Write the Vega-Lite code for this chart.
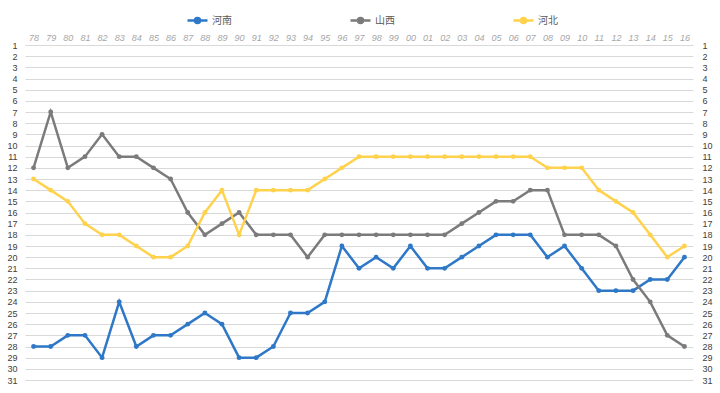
{
  "$schema": "https://vega.github.io/schema/vega-lite/v6.json",
  "autosize": "none",
  "width": 668,
  "height": 335,
  "padding": {"left": 25, "top": 45, "right": 27, "bottom": 13},
  "background": "white",
  "config": {
    "view": {"stroke": null},
    "font": "Liberation Sans",
    "axis": {"labelFont": "Liberation Sans"},
    "legend": {"labelFont": "Noto Sans CJK SC"}
  },
  "data": {
    "values": [
      {"yr": "78", "s": "河南", "v": 28}, {"yr": "79", "s": "河南", "v": 28}, {"yr": "80", "s": "河南", "v": 27}, {"yr": "81", "s": "河南", "v": 27}, {"yr": "82", "s": "河南", "v": 29}, {"yr": "83", "s": "河南", "v": 24}, {"yr": "84", "s": "河南", "v": 28}, {"yr": "85", "s": "河南", "v": 27}, {"yr": "86", "s": "河南", "v": 27}, {"yr": "87", "s": "河南", "v": 26}, {"yr": "88", "s": "河南", "v": 25}, {"yr": "89", "s": "河南", "v": 26}, {"yr": "90", "s": "河南", "v": 29}, {"yr": "91", "s": "河南", "v": 29}, {"yr": "92", "s": "河南", "v": 28}, {"yr": "93", "s": "河南", "v": 25}, {"yr": "94", "s": "河南", "v": 25}, {"yr": "95", "s": "河南", "v": 24}, {"yr": "96", "s": "河南", "v": 19}, {"yr": "97", "s": "河南", "v": 21}, {"yr": "98", "s": "河南", "v": 20}, {"yr": "99", "s": "河南", "v": 21}, {"yr": "00", "s": "河南", "v": 19}, {"yr": "01", "s": "河南", "v": 21}, {"yr": "02", "s": "河南", "v": 21}, {"yr": "03", "s": "河南", "v": 20}, {"yr": "04", "s": "河南", "v": 19}, {"yr": "05", "s": "河南", "v": 18}, {"yr": "06", "s": "河南", "v": 18}, {"yr": "07", "s": "河南", "v": 18}, {"yr": "08", "s": "河南", "v": 20}, {"yr": "09", "s": "河南", "v": 19}, {"yr": "10", "s": "河南", "v": 21}, {"yr": "11", "s": "河南", "v": 23}, {"yr": "12", "s": "河南", "v": 23}, {"yr": "13", "s": "河南", "v": 23}, {"yr": "14", "s": "河南", "v": 22}, {"yr": "15", "s": "河南", "v": 22}, {"yr": "16", "s": "河南", "v": 20},
      {"yr": "78", "s": "山西", "v": 12}, {"yr": "79", "s": "山西", "v": 7}, {"yr": "80", "s": "山西", "v": 12}, {"yr": "81", "s": "山西", "v": 11}, {"yr": "82", "s": "山西", "v": 9}, {"yr": "83", "s": "山西", "v": 11}, {"yr": "84", "s": "山西", "v": 11}, {"yr": "85", "s": "山西", "v": 12}, {"yr": "86", "s": "山西", "v": 13}, {"yr": "87", "s": "山西", "v": 16}, {"yr": "88", "s": "山西", "v": 18}, {"yr": "89", "s": "山西", "v": 17}, {"yr": "90", "s": "山西", "v": 16}, {"yr": "91", "s": "山西", "v": 18}, {"yr": "92", "s": "山西", "v": 18}, {"yr": "93", "s": "山西", "v": 18}, {"yr": "94", "s": "山西", "v": 20}, {"yr": "95", "s": "山西", "v": 18}, {"yr": "96", "s": "山西", "v": 18}, {"yr": "97", "s": "山西", "v": 18}, {"yr": "98", "s": "山西", "v": 18}, {"yr": "99", "s": "山西", "v": 18}, {"yr": "00", "s": "山西", "v": 18}, {"yr": "01", "s": "山西", "v": 18}, {"yr": "02", "s": "山西", "v": 18}, {"yr": "03", "s": "山西", "v": 17}, {"yr": "04", "s": "山西", "v": 16}, {"yr": "05", "s": "山西", "v": 15}, {"yr": "06", "s": "山西", "v": 15}, {"yr": "07", "s": "山西", "v": 14}, {"yr": "08", "s": "山西", "v": 14}, {"yr": "09", "s": "山西", "v": 18}, {"yr": "10", "s": "山西", "v": 18}, {"yr": "11", "s": "山西", "v": 18}, {"yr": "12", "s": "山西", "v": 19}, {"yr": "13", "s": "山西", "v": 22}, {"yr": "14", "s": "山西", "v": 24}, {"yr": "15", "s": "山西", "v": 27}, {"yr": "16", "s": "山西", "v": 28},
      {"yr": "78", "s": "河北", "v": 13}, {"yr": "79", "s": "河北", "v": 14}, {"yr": "80", "s": "河北", "v": 15}, {"yr": "81", "s": "河北", "v": 17}, {"yr": "82", "s": "河北", "v": 18}, {"yr": "83", "s": "河北", "v": 18}, {"yr": "84", "s": "河北", "v": 19}, {"yr": "85", "s": "河北", "v": 20}, {"yr": "86", "s": "河北", "v": 20}, {"yr": "87", "s": "河北", "v": 19}, {"yr": "88", "s": "河北", "v": 16}, {"yr": "89", "s": "河北", "v": 14}, {"yr": "90", "s": "河北", "v": 18}, {"yr": "91", "s": "河北", "v": 14}, {"yr": "92", "s": "河北", "v": 14}, {"yr": "93", "s": "河北", "v": 14}, {"yr": "94", "s": "河北", "v": 14}, {"yr": "95", "s": "河北", "v": 13}, {"yr": "96", "s": "河北", "v": 12}, {"yr": "97", "s": "河北", "v": 11}, {"yr": "98", "s": "河北", "v": 11}, {"yr": "99", "s": "河北", "v": 11}, {"yr": "00", "s": "河北", "v": 11}, {"yr": "01", "s": "河北", "v": 11}, {"yr": "02", "s": "河北", "v": 11}, {"yr": "03", "s": "河北", "v": 11}, {"yr": "04", "s": "河北", "v": 11}, {"yr": "05", "s": "河北", "v": 11}, {"yr": "06", "s": "河北", "v": 11}, {"yr": "07", "s": "河北", "v": 11}, {"yr": "08", "s": "河北", "v": 12}, {"yr": "09", "s": "河北", "v": 12}, {"yr": "10", "s": "河北", "v": 12}, {"yr": "11", "s": "河北", "v": 14}, {"yr": "12", "s": "河北", "v": 15}, {"yr": "13", "s": "河北", "v": 16}, {"yr": "14", "s": "河北", "v": 18}, {"yr": "15", "s": "河北", "v": 20}, {"yr": "16", "s": "河北", "v": 19}
    ]
  },
  "encoding": {
    "x": {
      "field": "yr", "type": "ordinal", "sort": null,
      "scale": {"type": "point", "padding": 0.5},
      "axis": {"orient": "top", "title": null, "ticks": false, "domain": false, "grid": false, "labelAngle": 0, "labelFontSize": 9, "labelFontStyle": "italic", "labelColor": "#A6A6A6", "labelPadding": 3}
    },
    "color": {
      "field": "s", "type": "nominal",
      "scale": {"domain": ["河南", "山西", "河北"], "range": ["#2E78C7", "#7B7B7B", "#FFD24D"]},
      "legend": {
        "title": null, "orient": "none", "direction": "horizontal", "legendX": 161, "legendY": -36,
        "symbolType": "M-1,0L1,0M-0.25,0A0.25,0.25,0,1,1,0.25,0A0.25,0.25,0,1,1,-0.25,0Z",
        "symbolSize": 400, "symbolStrokeWidth": 2.5, "labelFontSize": 10, "labelColor": "#595959", "labelOffset": 3, "columnPadding": 113,
        "encode": {"symbols": {"update": {"fill": {"scale": "color", "field": "value"}, "stroke": {"scale": "color", "field": "value"}, "fillOpacity": {"value": 1}}}}
      }
    }
  },
  "layer": [
    {
      "mark": {"type": "line", "strokeWidth": 2.5},
      "encoding": {
        "y": {"field": "v", "type": "quantitative", "scale": {"domain": [1, 31], "reverse": true, "nice": false, "zero": false},
          "axis": {"orient": "left", "title": null, "values": [1,2,3,4,5,6,7,8,9,10,11,12,13,14,15,16,17,18,19,20,21,22,23,24,25,26,27,28,29,30,31], "ticks": false, "domain": false, "grid": true, "gridColor": "#D9D9D9", "gridWidth": 1, "labelFontSize": 9, "labelColor": "#404040", "labelPadding": 8}}
      }
    },
    {
      "mark": {"type": "point", "filled": true, "size": 24, "opacity": 1},
      "encoding": {
        "y": {"field": "v", "type": "quantitative",
          "axis": {"orient": "right", "title": null, "values": [1,2,3,4,5,6,7,8,9,10,11,12,13,14,15,16,17,18,19,20,21,22,23,24,25,26,27,28,29,30,31], "ticks": false, "domain": false, "grid": false, "labelFontSize": 9, "labelColor": "#404040", "labelPadding": 9}}
      }
    }
  ],
  "resolve": {"axis": {"y": "independent"}}
}
